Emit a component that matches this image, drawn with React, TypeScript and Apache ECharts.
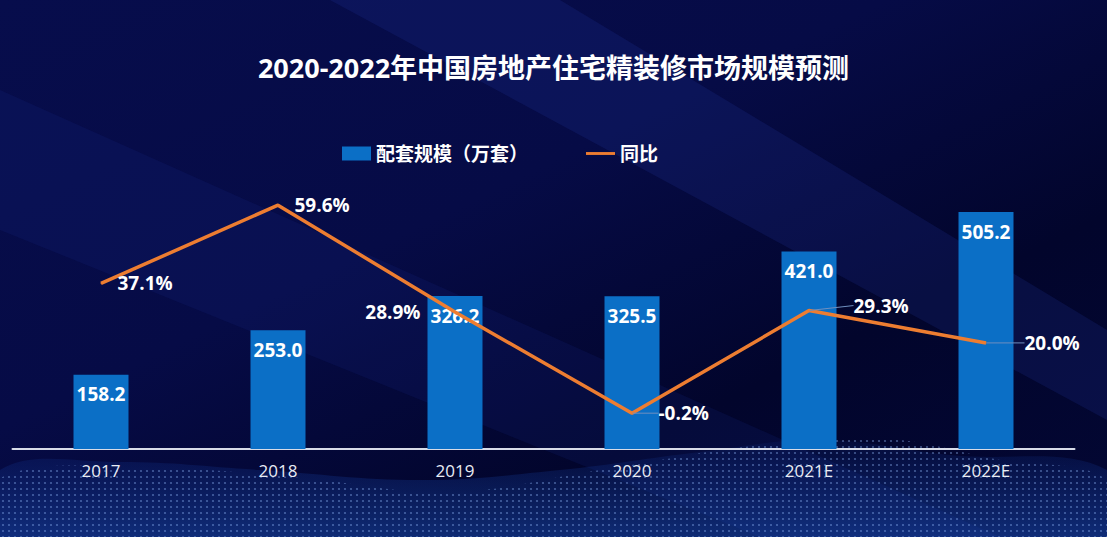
import React, { useEffect, useRef } from "react";
import * as echarts from "echarts";

const titleText = "2020-2022年中国房地产住宅精装修市场规模预测";
const categories = ["2017", "2018", "2019", "2020", "2021E", "2022E"];
const scaleValues = [158.2, 253.0, 326.2, 325.5, 421.0, 505.2];
const yoyValues = [37.1, 59.6, 28.9, -0.2, 29.3, 20.0];
const barName = "配套规模（万套）";
const lineName = "同比";

function dotPattern(): HTMLCanvasElement {
  const c = document.createElement("canvas");
  c.width = 6;
  c.height = 6;
  const ctx = c.getContext("2d");
  if (ctx) {
    ctx.fillStyle = "rgba(150,190,255,0.85)";
    ctx.beginPath();
    ctx.arc(3, 3, 1.1, 0, Math.PI * 2);
    ctx.fill();
  }
  return c;
}

export default function App() {
  const ref = useRef<HTMLDivElement>(null);
  useEffect(() => {
    if (!ref.current) return;
    const chart = echarts.init(ref.current, null, { renderer: "svg" });
    const font = "'Open Sans', 'Noto Sans CJK SC', sans-serif";
    const leftLabel = [false, false, true, false, false, false];
    const hasLeader = [false, false, false, true, true, true];
    const leaderDx = [0, 0, 0, 10, 28, 22];
    const leaderDy = [0, 0, 0, 0, -5, 0];
    const pattern = dotPattern();
    chart.setOption({
      animation: false,
      backgroundColor: {
        type: "linear",
        x: 0,
        y: 0,
        x2: 1,
        y2: 1,
        colorStops: [
          { offset: 0, color: "#070d4c" },
          { offset: 0.4, color: "#060b46" },
          { offset: 0.7, color: "#02052c" },
          { offset: 1, color: "#030734" },
        ],
      },
      graphic: [
        {
          type: "polygon",
          silent: true,
          z: -10,
          shape: { points: [[330, 0], [560, 0], [1107, 330], [1107, 420]] },
          style: { fill: "rgba(40,60,170,0.18)" },
        },
        {
          type: "polygon",
          silent: true,
          z: -10,
          shape: { points: [[0, 90], [0, 230], [760, 537], [1000, 537]] },
          style: { fill: "rgba(30,50,150,0.15)" },
        },
        {
          type: "polygon",
          silent: true,
          z: -9,
          shape: {
            points: [
              [0, 470], [120, 462], [260, 470], [420, 480], [560, 470], [700, 452], [820, 440],
              [950, 455], [1107, 470], [1107, 537], [0, 537],
            ],
            smooth: 0.4,
          },
          style: {
            fill: {
              type: "linear",
              x: 0, y: 0, x2: 0, y2: 1,
              colorStops: [
                { offset: 0, color: "rgba(20,60,160,0.1)" },
                { offset: 1, color: "rgba(30,90,200,0.55)" },
              ],
            },
          },
        },
        {
          type: "polygon",
          silent: true,
          z: -8,
          shape: {
            points: [
              [0, 478], [150, 468], [300, 478], [450, 492], [600, 470], [760, 445], [880, 438],
              [1000, 460], [1107, 480], [1107, 537], [0, 537],
            ],
            smooth: 0.4,
          },
          style: {
            fill: { image: pattern, repeat: "repeat" },
            opacity: 0.5,
          },
        },
      ],
      title: {
        text: titleText,
        left: "center",
        top: 49,
        textStyle: { color: "#ffffff", fontSize: 27, fontWeight: "bold", fontFamily: font },
      },
      legend: {
        left: 337,
        top: 139,
        itemGap: 58,
        itemWidth: 29,
        itemHeight: 14,
        textStyle: { color: "#ffffff", fontSize: 19, fontWeight: "bold", fontFamily: font },
        data: [
          { name: barName, icon: "rect" },
          { name: lineName, icon: "path://M0,0 H30 V3 H0 Z" },
        ],
      },
      grid: { left: 12.5, right: 32.5, top: 167.6, bottom: 88, containLabel: false },
      xAxis: {
        type: "category",
        data: categories,
        axisLine: { lineStyle: { color: "#d8dce8", width: 2 } },
        axisTick: { show: false },
        axisLabel: { color: "#e8ecf4", fontSize: 17, margin: 13, fontFamily: font },
      },
      yAxis: [
        { type: "value", min: 0, max: 600, show: false, splitLine: { show: false } },
        { type: "value", min: -10.5, max: 70.4, show: false, splitLine: { show: false } },
      ],
      series: [
        {
          name: barName,
          type: "bar",
          data: scaleValues,
          barWidth: 55,
          itemStyle: { color: "#0b6fc6" },
          label: {
            show: true,
            position: "insideTop",
            distance: 10,
            color: "#ffffff",
            fontSize: 19,
            fontWeight: "bold",
            fontFamily: font,
            formatter: (p: any) => p.value.toFixed(1),
          },
        },
        {
          name: lineName,
          type: "line",
          yAxisIndex: 1,
          data: yoyValues.map((v, i) => ({
            value: v,
            label: leftLabel[i] ? { position: "left", distance: 34, offset: [0, -5] } : undefined,
            labelLine: { show: hasLeader[i] },
          })),
          symbol: "circle",
          symbolSize: 1,
          showSymbol: true,
          lineStyle: { color: "#ed7d31", width: 3.5 },
          itemStyle: { color: "#ed7d31" },
          label: {
            show: true,
            position: "right",
            distance: 16,
            color: "#ffffff",
            fontSize: 19,
            fontWeight: "bold",
            fontFamily: font,
            formatter: (p: any) => p.value.toFixed(1) + "%",
          },
          labelLine: { show: true, lineStyle: { color: "#6f8fbf", width: 1 } },
          labelLayout: (p: any) => ({ dx: leaderDx[p.dataIndex], dy: leaderDy[p.dataIndex] }),
        },
      ],
    });
    return () => chart.dispose();
  }, []);
  return (
    <div
      ref={ref}
      style={{ position: "fixed", left: 0, top: 0, width: 1107, height: 537 }}
    />
  );
}
